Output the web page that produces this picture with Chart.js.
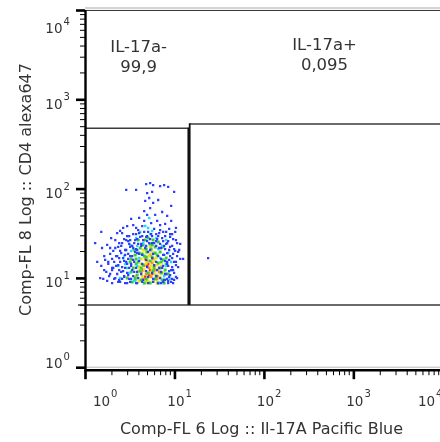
<!DOCTYPE html>
<html><head><meta charset="utf-8">
<script src="https://cdn.jsdelivr.net/npm/chart.js@4/dist/chart.umd.min.js"></script>
<style>html,body{margin:0;padding:0;overflow:hidden;background:#fff}#wrap{position:absolute;left:0;top:0;width:450px;height:442px}</style>
</head><body><div id="wrap"><canvas id="c" width="450" height="442"></canvas></div>
<script>
// ---- data ----
const xTitle = 'Comp-FL 6 Log :: Il-17A Pacific Blue';
const yTitle = 'Comp-FL 8 Log :: CD4 alexa647';
const decades = [0, 1, 2, 3, 4];
const xRange = [1, 10000];
const yRange = [1, 10000];

// gates (data units)
const gateNegName = 'IL-17a-';
const gateNegPct = '99,9';
const gateNegX = [1, 14.3];
const gateNegY = [5.04, 480];
const gatePosName = 'IL-17a+';
const gatePosPct = '0,095';
const gatePosX = [14.8, 10000];
const gatePosY = [5.04, 536];

// events, grouped by density colour
const bluePts = [
 [4.83,114],[5.35,117],[5.78,111],[6.92,108],[7.67,111],[8.51,106],[2.89,97.8],[3.73,97.8],[4.95,90.4],[5.63,92.9],
 [9.92,92.9],[5.22,79.5],[4.71,73.6],[5.78,69.9],[6.58,75.5],[9.19,64.7],[5.35,61.4],[4.59,56.8],[4.95,51.3],[6.09,51.3],
 [7.29,55.4],[8.29,50.0],[3.28,46.3],[4.03,47.5],[4.59,44.0],[5.49,41.7],[6.41,44.0],[9.19,44.0],[6.92,39.6],[7.87,40.7],
 [2.96,38.6],[3.73,36.7],[4.36,38.6],[5.93,35.8],[8.73,35.8],[10.4,36.7],[2.47,34.0],[5.08,33.1],[6.25,31.4],[7.48,33.1],
 [9.43,31.4],
 [1.52,33.1],[1.30,24.9],[1.77,23.7],[1.96,28.3],[2.18,26.9],[2.35,22.5],[2.07,20.3],[1.64,17.8],[1.37,15.3],[1.82,15.3],
 [2.01,16.5],[2.23,13.8],[1.64,12.4],[1.91,11.2],[2.12,9.85],[1.77,9.36],[2.35,9.12],[2.54,11.8],[2.67,16.9],[2.81,20.8],
 [2.60,24.9],[2.96,29.8],[3.20,26.9],[3.37,23.1],[3.04,18.8],[2.89,15.3],[3.12,13.1],[2.74,10.6],[2.96,8.88],[3.28,9.85],
 [3.55,11.8],[3.46,16.1],[3.64,19.8],[3.93,24.3],[4.14,29.1],[4.47,26.9],[3.73,31.4],
 [10.4,26.9],[9.43,23.1],[8.51,26.2],[10.2,20.3],[8.95,17.8],[9.92,15.3],[11.0,13.4],[9.19,12.4],[10.4,10.4],[8.51,9.36],
 [9.67,8.88],[7.87,21.3],[8.29,15.3],[8.08,11.2],[8.95,29.1],[11.6,24.3],[12.5,16.5],[7.29,28.3],[6.92,24.3],[6.58,29.8],
 [5.35,27.6],[4.83,23.1],[5.93,24.9],[7.48,18.3],[7.29,13.1],[7.67,9.60],[5.63,29.8],[4.59,33.1],[3.93,34.8],[23.8,16.9],
 [2.47,15.3],[2.41,12.4],[2.60,9.85],[2.81,13.1],[3.04,10.9],[3.28,14.5],[3.20,17.8],[3.46,21.9],[3.64,26.9],[3.83,20.8],
 [4.03,18.8],[4.25,24.3],[4.36,29.8],[4.95,29.8],[5.22,24.9],[6.25,26.2],[6.75,21.9],[8.08,24.3],[8.73,20.8],[9.43,16.9],
 [8.51,13.8],[8.95,10.9],[8.29,9.85],[9.67,12.4],[7.10,8.88],[3.73,8.88],[2.01,13.1],[2.23,17.8],[2.47,20.3],[1.91,21.9],
 [1.55,21.9],[1.48,10.1],[2.29,32.2],[2.67,36.7],[3.46,39.6],[6.92,34.8],[8.08,33.1],[10.2,33.1],[11.0,19.8],[9.92,9.60],
 [3.12,24.3],[2.89,26.9],
 [2.60,32.2],[3.12,29.8],[3.46,31.4],[4.03,32.2],[4.83,29.1],[5.49,31.4],[6.75,32.2],[7.87,29.8],[8.95,31.4],
 [2.41,24.9],[2.74,27.6],[3.04,26.2],[3.55,24.9],[3.83,27.6],[4.95,26.2],[5.63,24.9],[6.41,27.6],[7.48,26.2],[8.29,24.9],[9.67,27.6],[10.7,24.9],
 [2.18,21.9],[2.54,23.1],[2.89,20.8],[3.20,22.5],[3.73,21.3],[4.25,23.1],[4.71,21.9],[5.35,20.8],[6.25,23.1],[7.10,21.9],[7.67,23.1],[8.95,22.5],[9.92,21.3],[11.3,20.8],
 [1.91,18.8],[2.29,17.8],[2.54,19.2],[2.81,18.3],[3.37,17.8],[3.83,19.2],[4.36,18.3],[5.08,19.8],[5.78,18.8],[6.58,17.8],[7.67,18.3],[8.29,19.2],[9.67,18.8],[10.7,17.8],
 [1.68,16.1],[2.12,15.3],[2.41,16.9],[2.74,15.7],[3.04,16.5],[3.55,15.3],[4.03,15.7],[4.83,16.1],[5.63,16.9],[6.25,15.3],[7.10,16.5],[7.87,15.7],[8.73,16.1],[10.4,15.3],[11.6,16.5],
 [1.52,13.8],[1.82,14.5],[2.07,13.1],[2.35,14.1],[2.60,13.4],[2.96,14.5],[3.28,13.8],[3.73,13.1],[4.36,14.5],[4.95,13.4],[5.93,14.1],[6.75,13.1],[7.48,13.8],[8.29,14.5],[9.43,13.4],[10.4,14.1],
 [1.73,11.8],[2.01,12.4],[2.29,11.2],[2.67,12.1],[2.96,11.5],[3.37,12.4],[3.83,11.8],[4.25,11.2],[4.83,12.1],[5.63,11.5],[6.41,12.4],[7.10,11.8],[7.87,11.2],[8.73,12.1],[9.92,11.5],
 [1.60,9.85],[1.86,10.6],[2.18,10.1],[2.41,9.60],[2.74,10.4],[3.12,9.85],[3.46,10.6],[3.93,10.1],[4.47,9.60],[5.08,10.4],[5.78,9.85],[6.25,10.6],[6.92,10.1],[7.87,9.60],[8.73,10.4],[9.43,9.85],[10.7,10.1],
 [2.01,8.88],[2.47,9.12],[2.81,8.88],[3.20,9.12],[3.83,8.88],[4.36,9.12],[5.08,8.88],[5.78,9.12],[6.58,8.88],[7.48,9.12],[8.51,8.88],[9.19,9.12]
];
const cyanPts = [
 [5.22,47.5],[3.73,28.3],[6.25,28.3],[4.47,24.9],[7.29,23.1],[3.28,20.3],[8.51,19.2],[4.03,16.9],[2.81,14.5],[8.08,13.8],
 [3.12,11.5],[7.67,10.6],[3.55,9.36],[5.63,34.0],[4.71,38.6],[6.92,16.9],[2.47,10.1],[8.95,9.85],[3.83,13.8],[6.58,21.3],
 [4.14,33.1],[3.20,23.7],[8.08,26.9],[2.74,17.8],[9.19,15.3],[2.96,13.1],[6.92,8.88],[5.08,36.7],[3.83,23.1],[2.35,13.8],
 [9.43,12.4],[5.35,31.4]
];
const greenPts = [
 [4.71,26.9],[5.35,24.3],[4.14,21.9],[6.09,22.5],[3.64,18.3],[4.95,19.8],[6.92,19.8],[3.93,15.3],[5.63,17.4],[7.48,16.1],
 [3.46,13.1],[4.47,14.1],[6.58,14.9],[7.87,12.4],[3.83,10.9],[5.08,11.5],[6.25,10.6],[7.29,9.60],[3.37,9.12],[4.25,9.60],
 [5.35,8.88],[6.58,8.88],[4.59,17.8],[5.93,13.1],[4.14,12.1],[7.10,11.5],[4.83,9.85],[3.73,16.5],[5.49,21.3],[6.41,18.3],
 [4.36,18.8],[3.20,15.3],[5.78,26.9],[8.08,16.9],[3.64,10.1],
 [3.93,26.9],[5.08,28.3],[6.58,25.6],[3.55,20.8],[4.83,21.3],[7.48,22.5],[4.03,19.2],[6.09,19.2],[3.28,16.5],[4.83,17.4],
 [7.10,15.3],[3.73,14.5],[5.35,15.7],[8.08,14.5],[3.28,11.8],[4.25,13.1],[5.78,12.1],[8.51,11.2],[3.64,9.60],[4.59,8.88],
 [6.09,9.85],[7.67,8.88],[2.96,10.1],[6.92,13.1],[4.47,23.7],[5.63,23.7]
];
const yellowPts = [
 [4.47,20.8],[5.22,17.8],[4.25,16.5],[5.93,15.7],[4.83,14.9],[5.49,13.8],[4.03,13.4],[6.58,12.7],[4.59,12.4],[5.35,11.5],
 [6.09,11.2],[4.36,10.6],[5.08,10.1],[6.92,10.4],[5.78,9.36],[4.03,9.36],[4.71,8.88],[6.41,14.1],[4.95,16.9],[5.63,19.8],
 [4.83,19.8],[6.25,16.9],[3.93,12.1],[5.63,12.4],[7.10,13.8],[4.25,14.5],[5.08,9.12],[6.41,8.88],[3.73,10.6],[7.48,11.5],
 [5.35,22.5]
];
const orangePts = [
 [4.95,15.7],[5.63,14.9],[4.59,13.8],[5.22,13.1],[6.09,12.4],[4.83,11.2],[5.49,10.4],[6.41,9.85],[4.47,9.85],[5.35,18.3],
 [5.78,16.5],[4.25,11.8],[4.95,9.12],[6.75,11.8],[4.71,16.5]
];
const redPts = [
 [5.08,14.5],[5.35,12.4],[5.93,13.8],[4.71,10.4],[5.22,10.9],[6.41,10.6],[4.47,12.4],[5.63,11.2],[4.95,13.8]
];

// ---- styling ----
const TEXT = '#333333';
const FONT = '"DejaVu Sans", "Liberation Sans", sans-serif';
const levels = [
  {pts: bluePts,   color: '#2b3dff', r: 1.6},
  {pts: cyanPts,   color: '#25d8ff', r: 1.8},
  {pts: greenPts,  color: '#3ccc35', r: 2.1},
  {pts: yellowPts, color: '#e8e818', r: 2.1},
  {pts: orangePts, color: '#ff9010', r: 2.0},
  {pts: redPts,    color: '#ff2a1a', r: 1.9}
];

const W = 450, H = 442;
const AREA = {left: 85, top: 10.5, right: 442.8, bottom: 367.7};

function seg(ctx, x1, y1, x2, y2) { ctx.beginPath(); ctx.moveTo(x1, y1); ctx.lineTo(x2, y2); ctx.stroke(); }

const decor = {
  id: 'decor',
  beforeDatasetsDraw(chart) {
    const {ctx, chartArea: a} = chart;
    ctx.save();
    ctx.fillStyle = '#d4d4d4';
    ctx.fillRect(a.left, a.top - 3.5, a.right - a.left, 2.2);
    ctx.strokeStyle = '#3a3a3a'; ctx.lineWidth = 1.2;
    seg(ctx, a.left, a.top, a.right, a.top);
    ctx.strokeStyle = '#b8b8b8'; ctx.lineWidth = 1;
    seg(ctx, a.left, a.bottom - 0.5, a.right, a.bottom - 0.5);
    ctx.restore();
  },
  afterDatasetsDraw(chart) {
    const {ctx, chartArea: a, scales: {x, y}} = chart;
    ctx.save();
    // gates
    const bottomY = y.getPixelForValue(gateNegY[0]);
    ctx.strokeStyle = '#3a3a3a'; ctx.lineWidth = 1.4;
    seg(ctx, a.left - 7, bottomY, a.right, bottomY);
    const nTop = y.getPixelForValue(gateNegY[1]);
    seg(ctx, x.getPixelForValue(gateNegX[0]), nTop, x.getPixelForValue(gateNegX[1]), nTop);
    const pTop = y.getPixelForValue(gatePosY[1]);
    seg(ctx, x.getPixelForValue(gatePosX[0]), pTop, x.getPixelForValue(gatePosX[1]), pTop);
    ctx.strokeStyle = '#111'; ctx.lineWidth = 1.8;
    const nR = x.getPixelForValue(gateNegX[1]);
    seg(ctx, nR, nTop - 0.7, nR, bottomY);
    const pL = x.getPixelForValue(gatePosX[0]);
    seg(ctx, pL, pTop - 0.7, pL, bottomY);

    // gate labels
    ctx.fillStyle = TEXT;
    ctx.font = '16.5px ' + FONT;
    ctx.textAlign = 'center'; ctx.textBaseline = 'alphabetic';
    const nC = (x.getPixelForValue(gateNegX[0]) + nR) / 2;
    ctx.fillText(gateNegName, nC + 2, 51.5);
    ctx.fillText(gateNegPct, nC + 2, 72);
    ctx.fillText(gatePosName, 324.5, 49.5);
    ctx.fillText(gatePosPct, 324.5, 70);

    // axes lines
    const axY = a.bottom + 2.5;
    ctx.strokeStyle = '#000'; ctx.lineWidth = 2.4;
    seg(ctx, a.left + 0.5, a.top - 0.5, a.left + 0.5, axY + 1);
    seg(ctx, a.left - 0.5, axY, a.right, axY);
    // ticks
    decades.forEach(d => {
      for (let m = 1; m <= 9; m++) {
        const v = m * Math.pow(10, d);
        if (v >= xRange[0] && v <= xRange[1]) {
          const px = x.getPixelForValue(v);
          if (m === 1) { ctx.lineWidth = 2.6; seg(ctx, px + 0.5, axY, px + 0.5, axY + 9); }
          else { ctx.lineWidth = 1; seg(ctx, px, axY, px, axY + 5); }
        }
        if (v >= yRange[0] && v <= yRange[1]) {
          const py = y.getPixelForValue(v);
          if (m === 1) { ctx.lineWidth = 2.6; seg(ctx, a.left - 9, py, a.left, py); }
          else { ctx.lineWidth = 1; seg(ctx, a.left - 5, py, a.left, py); }
        }
      }
    });
    // tick labels
    ctx.fillStyle = TEXT;
    decades.forEach(d => {
      const v = Math.pow(10, d);
      let cx = Math.min(Math.max(x.getPixelForValue(v) + 1.5, 101.5), 426.5);
      ctx.font = '13.5px ' + FONT; ctx.textAlign = 'center';
      ctx.fillText('10', cx, 406);
      const wx = ctx.measureText('10').width;
      ctx.font = '10px ' + FONT; ctx.textAlign = 'left';
      ctx.fillText(String(d), cx + wx / 2 + 1, 396.5);
      let by = Math.min(Math.max(y.getPixelForValue(v) + 9, 33), 368);
      ctx.font = '13.5px ' + FONT; ctx.textAlign = 'right';
      ctx.fillText('10', 62.5, by);
      ctx.font = '10px ' + FONT; ctx.textAlign = 'left';
      ctx.fillText(String(d), 63.5, by - 8.5);
    });
    // axis titles
    ctx.font = '16px ' + FONT; ctx.textAlign = 'center';
    ctx.fillText(xTitle, 261.5, 434);
    ctx.save();
    ctx.translate(30.5, 189.5); ctx.rotate(-Math.PI / 2);
    ctx.fillText(yTitle, 0, 0);
    ctx.restore();
    ctx.restore();
  }
};

new Chart(document.getElementById('c'), {
  type: 'scatter',
  data: {
    datasets: levels.map(l => ({
      data: l.pts.map(p => ({x: p[0], y: p[1]})),
      pointStyle: 'rect', pointRadius: l.r, pointBorderWidth: 0,
      backgroundColor: l.color, borderColor: l.color
    }))
  },
  options: {
    responsive: false, animation: false, events: [],
    layout: {padding: {left: AREA.left, top: AREA.top, right: W - AREA.right, bottom: H - AREA.bottom}},
    plugins: {legend: {display: false}, tooltip: {enabled: false}},
    scales: {
      x: {type: 'logarithmic', min: xRange[0], max: xRange[1], display: false},
      y: {type: 'logarithmic', min: yRange[0], max: yRange[1], display: false}
    }
  },
  plugins: [decor]
});
</script></body></html>
